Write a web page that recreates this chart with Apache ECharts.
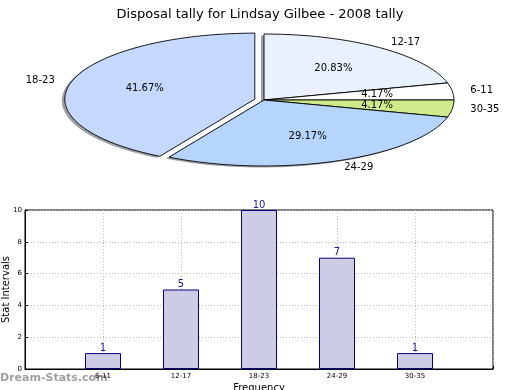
<!DOCTYPE html>
<html><head><meta charset="utf-8">
<script src="https://cdn.jsdelivr.net/npm/echarts@6/dist/echarts.min.js"></script>
<style>html,body{margin:0;padding:0;background:#fff}#c{width:520px;height:390px}</style>
</head><body><div id="c"></div>
<script>
const titleText = 'Disposal tally for Lindsay Gilbee - 2008 tally';
const pieLabels = ['12-17', '6-11', '30-35', '24-29', '18-23'];
const pieValues = [5, 1, 1, 7, 10];
const pieColors = ['#eaf1fe', '#ffffff', '#cfea8a', '#b6d5fe', '#c5d8fe'];
const pieExplode = [0, 0, 0, 0, 0.05];
const barCategories = ['6-11', '12-17', '18-23', '24-29', '30-35'];
const barValues = [1, 5, 10, 7, 1];
const yMin = 0, yMax = 10, yInterval = 2;

const FONT = 'DejaVu Sans';
const CX = 264, CY = 100, RX = 190, RY = 66;
const SHX = -3, SHY = 1.5;
const pieTotal = pieValues.reduce((a, b) => a + b, 0);
let cum = 0;
const pieData = pieValues.map((v, i) => { const d = { name: pieLabels[i], value: [v, cum] }; cum += v; return d; });

function renderSlice(params, api) {
  const i = params.dataIndex;
  const v = api.value(0), start = api.value(1);
  const a0 = (90 - 360 * start / pieTotal) * Math.PI / 180;
  const a1 = (90 - 360 * (start + v) / pieTotal) * Math.PI / 180;
  const mid = (a0 + a1) / 2;
  const ex = pieExplode[i];
  const ox = CX + ex * RX * Math.cos(mid), oy = CY - ex * RY * Math.sin(mid);
  const n = Math.max(6, Math.ceil(Math.abs(a1 - a0) * 180 / Math.PI / 2));
  const pts = [[ox, oy]];
  for (let k = 0; k <= n; k++) {
    const t = a0 + (a1 - a0) * k / n;
    pts.push([ox + RX * Math.cos(t), oy - RY * Math.sin(t)]);
  }
  const spts = pts.map(p => [p[0] + SHX, p[1] + SHY]);
  const c = Math.cos(mid), s = Math.sin(mid);
  const pct = (100 * v / pieTotal).toFixed(2) + '%';
  return {
    type: 'group',
    children: [
      { type: 'polygon', z2: 1, shape: { points: spts }, style: { fill: 'rgba(40,45,55,0.45)', stroke: null } },
      { type: 'polygon', z2: 10, shape: { points: pts }, style: { fill: pieColors[i], stroke: '#000', lineWidth: 0.9 } },
      { type: 'text', z2: 20, x: ox + 1.09 * RX * c + (c >= 0 ? 1 : 0), y: oy - 1.1 * RY * s,
        style: { text: pieLabels[i], fill: '#000', font: '10px "' + FONT + '"', align: c >= 0 ? 'left' : 'right', verticalAlign: 'middle' } },
      { type: 'text', z2: 20, x: ox + 0.6 * RX * c, y: oy - 0.6 * RY * s,
        style: { text: pct, fill: '#000', font: '10px "' + FONT + '"', align: 'center', verticalAlign: 'middle' } }
    ]
  };
}

const xCats = [''].concat(barCategories, ['']);
const xVals = [null].concat(barValues, [null]);

const chart = echarts.init(document.getElementById('c'), null, { renderer: 'canvas' });
chart.setOption({
  animation: false,
  backgroundColor: '#fff',
  textStyle: { fontFamily: FONT },
  title: { text: titleText, left: 'center', top: 3, textStyle: { fontFamily: FONT, fontSize: 13, fontWeight: 'normal', color: '#000' } },
  graphic: [{ type: 'text', left: 0, top: 373, style: { text: 'Dream-Stats.com', fill: '#a0a0a0', font: 'bold 11px "' + FONT + '"' } }],
  grid: { left: 25, right: 27, top: 210, bottom: 21, outerBoundsMode: 'none', containLabel: false, show: true, borderColor: '#000', borderWidth: 1, backgroundColor: 'transparent' },
  xAxis: {
    type: 'category', data: xCats, boundaryGap: false,
    name: 'Frequency', nameLocation: 'middle', nameGap: 14, nameMoveOverlap: false, nameTextStyle: { fontSize: 10, color: '#000', fontFamily: FONT },
    axisLine: { show: true, lineStyle: { color: '#000' } },
    axisTick: { show: true, inside: true, length: 3, lineStyle: { color: '#000' } },
    axisLabel: { fontSize: 7, color: '#000', margin: 4, fontFamily: FONT },
    splitLine: { show: true, lineStyle: { color: '#bbb', type: [1, 2] } }
  },
  yAxis: {
    type: 'value', min: yMin, max: yMax, interval: yInterval,
    name: 'Stat Intervals', nameLocation: 'middle', nameGap: 14, nameMoveOverlap: false, nameTextStyle: { fontSize: 10, color: '#000', fontFamily: FONT },
    axisLine: { show: true, lineStyle: { color: '#000' } },
    axisTick: { show: true, inside: true, length: 3, lineStyle: { color: '#000' } },
    axisLabel: { fontSize: 7, color: '#000', margin: 3, fontFamily: FONT },
    splitLine: { show: true, lineStyle: { color: '#bbb', type: [1, 2] } }
  },
  series: [
    {
      type: 'custom', coordinateSystem: 'none', renderItem: renderSlice, data: pieData, silent: true
    },
    {
      type: 'bar', data: xVals, barWidth: 36,
      itemStyle: { color: '#ccccE5', borderColor: '#000080', borderWidth: 1 },
      label: { show: true, position: 'top', distance: 0, color: '#1a1a9a', fontSize: 10, fontFamily: FONT }
    }
  ]
});
</script></body></html>
